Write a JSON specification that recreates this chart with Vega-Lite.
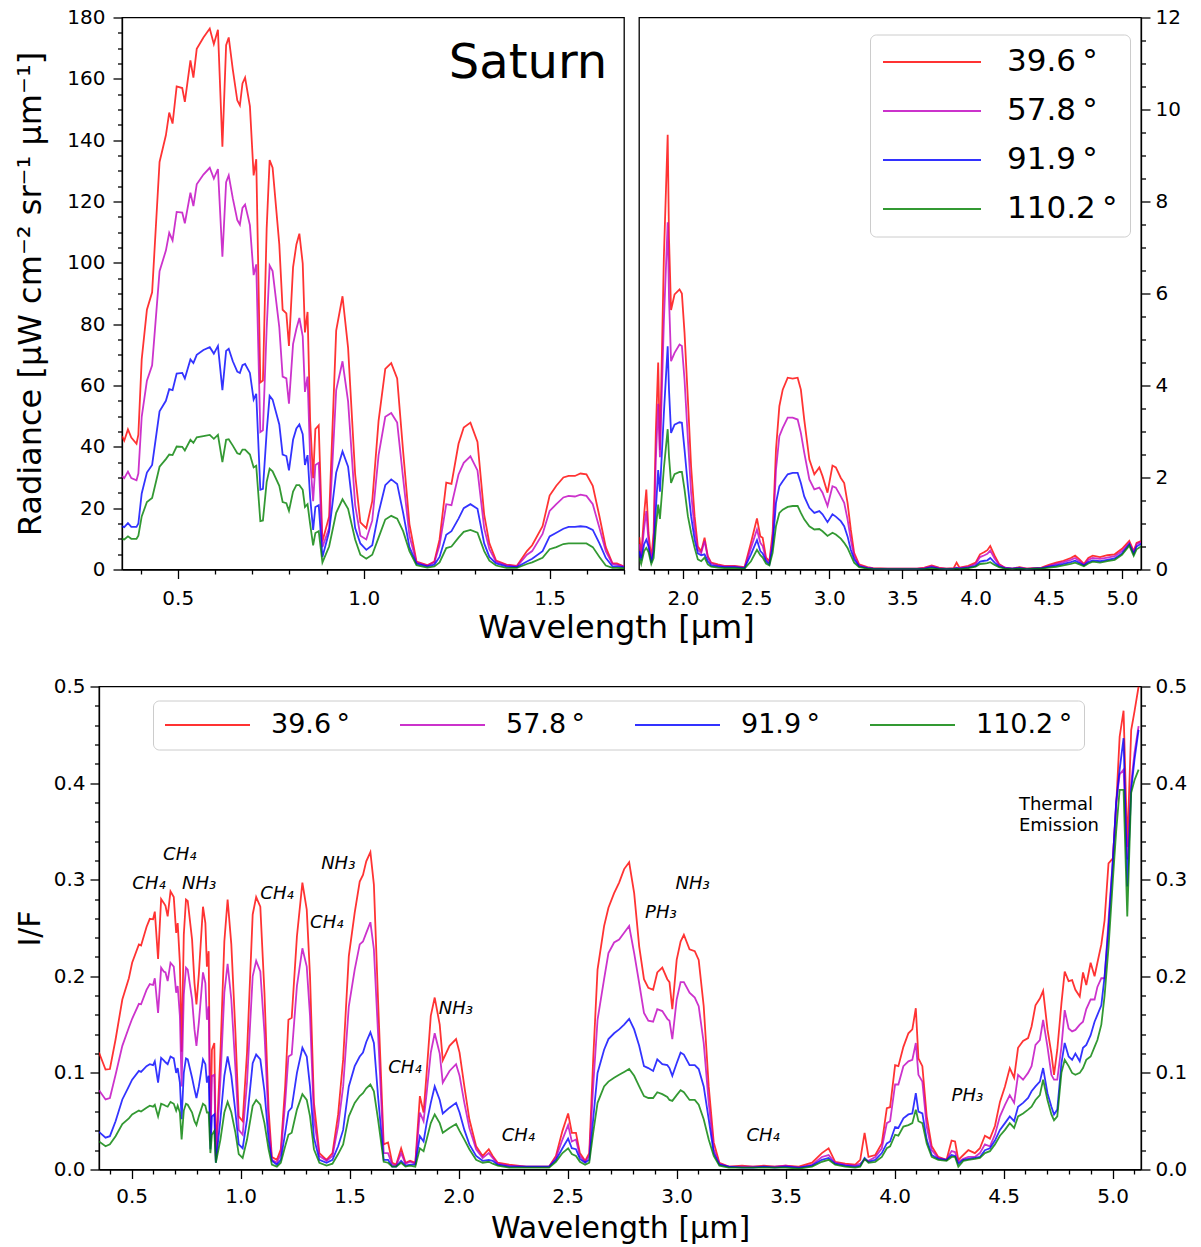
{
  "$schema": "https://vega.github.io/schema/vega-lite/v6.json",
  "background": "white",
  "padding": {"left": 14, "top": 6.5, "right": 5, "bottom": 5},
  "config": {
    "font": "DejaVu Sans",
    "view": {"stroke": "black", "strokeWidth": 1.3},
    "axis": {"grid": false, "domainColor": "black", "domainWidth": 1.3, "tickColor": "black", "tickWidth": 1.3, "labelColor": "black", "titleColor": "black", "labelFontSize": 20, "titleFontWeight": "normal", "labelFlush": false, "labelOverlap": false, "labelPadding": 5, "labelFont": "DejaVu Sans", "titleFont": "DejaVu Sans"},
    "legend": {"labelFont": "DejaVu Sans", "labelColor": "black", "symbolType": "stroke", "symbolStrokeWidth": 2, "strokeColor": "#cccccc", "fillColor": "white", "cornerRadius": 6, "labelLimit": 300}
  },
  "datasets": {
    "L": [
      {"w":0.350,"a":43.5,"b":30.4,"c":14.1,"d":10.0},
      {"w":0.356,"a":42.0,"b":29.8,"c":13.8,"d":9.8},
      {"w":0.366,"a":45.7,"b":31.9,"c":15.1,"d":10.8},
      {"w":0.375,"a":43.0,"b":29.8,"c":13.9,"d":10.0},
      {"w":0.389,"a":41.0,"b":29.1,"c":13.9,"d":10.0},
      {"w":0.394,"a":44.0,"b":31.3,"c":15.0,"d":11.0},
      {"w":0.403,"a":68.5,"b":49.8,"c":24.8,"d":17.3},
      {"w":0.417,"a":84.7,"b":61.6,"c":31.6,"d":22.0},
      {"w":0.431,"a":90.4,"b":66.6,"c":34.1,"d":23.3},
      {"w":0.451,"a":132.9,"b":97.3,"c":51.6,"d":33.5},
      {"w":0.468,"a":141.6,"b":104.0,"c":55.0,"d":36.0},
      {"w":0.477,"a":149.0,"b":109.8,"c":58.8,"d":37.5},
      {"w":0.486,"a":145.4,"b":107.3,"c":58.5,"d":37.3},
      {"w":0.497,"a":157.5,"b":116.6,"c":63.9,"d":40.1},
      {"w":0.512,"a":157.0,"b":116.4,"c":64.1,"d":40.0},
      {"w":0.519,"a":152.5,"b":112.9,"c":62.3,"d":38.8},
      {"w":0.534,"a":166.0,"b":122.9,"c":68.5,"d":42.3},
      {"w":0.542,"a":160.4,"b":118.5,"c":67.3,"d":41.3},
      {"w":0.551,"a":169.8,"b":125.6,"c":70.0,"d":43.1},
      {"w":0.569,"a":173.5,"b":128.8,"c":71.6,"d":43.5},
      {"w":0.586,"a":176.4,"b":131.0,"c":72.5,"d":43.9},
      {"w":0.597,"a":171.3,"b":127.5,"c":70.4,"d":42.6},
      {"w":0.608,"a":176.0,"b":130.6,"c":72.9,"d":43.9},
      {"w":0.620,"a":137.9,"b":102.0,"c":58.5,"d":35.0},
      {"w":0.630,"a":171.0,"b":126.3,"c":71.3,"d":42.3},
      {"w":0.637,"a":173.5,"b":128.5,"c":72.0,"d":42.5},
      {"w":0.648,"a":163.0,"b":121.0,"c":67.9,"d":40.4},
      {"w":0.660,"a":153.0,"b":114.0,"c":64.5,"d":37.9},
      {"w":0.667,"a":151.3,"b":112.5,"c":64.1,"d":37.6},
      {"w":0.674,"a":158.5,"b":117.9,"c":66.6,"d":39.1},
      {"w":0.681,"a":160.4,"b":119.0,"c":67.0,"d":39.1},
      {"w":0.694,"a":151.0,"b":112.3,"c":64.1,"d":37.5},
      {"w":0.704,"a":128.5,"b":96.0,"c":55.4,"d":33.3},
      {"w":0.711,"a":133.8,"b":99.5,"c":57.3,"d":33.8},
      {"w":0.722,"a":61.0,"b":44.8,"c":26.0,"d":15.8},
      {"w":0.729,"a":61.6,"b":45.4,"c":26.3,"d":16.0},
      {"w":0.739,"a":111.0,"b":78.5,"c":44.8,"d":28.5},
      {"w":0.747,"a":133.5,"b":99.1,"c":56.6,"d":32.9},
      {"w":0.755,"a":131.0,"b":97.3,"c":55.4,"d":32.0},
      {"w":0.773,"a":106.0,"b":79.0,"c":47.3,"d":27.3},
      {"w":0.782,"a":84.7,"b":62.9,"c":37.5,"d":22.0},
      {"w":0.792,"a":83.5,"b":62.3,"c":37.0,"d":21.6},
      {"w":0.799,"a":72.9,"b":54.1,"c":32.3,"d":19.1},
      {"w":0.810,"a":98.5,"b":73.5,"c":42.3,"d":25.4},
      {"w":0.819,"a":106.0,"b":78.5,"c":46.0,"d":27.5},
      {"w":0.827,"a":109.5,"b":82.0,"c":47.3,"d":27.5},
      {"w":0.836,"a":99.8,"b":76.0,"c":44.1,"d":26.0},
      {"w":0.842,"a":77.3,"b":57.9,"c":34.1,"d":20.4},
      {"w":0.849,"a":84.0,"b":62.9,"c":37.3,"d":21.3},
      {"w":0.856,"a":48.5,"b":36.0,"c":23.5,"d":14.8},
      {"w":0.864,"a":29.8,"b":22.3,"c":12.9,"d":7.9},
      {"w":0.870,"a":45.8,"b":34.1,"c":20.4,"d":11.9},
      {"w":0.879,"a":47.0,"b":34.8,"c":21.0,"d":12.5},
      {"w":0.889,"a":9.1,"b":7.3,"c":4.1,"d":2.3},
      {"w":0.907,"a":17.3,"b":13.5,"c":12.3,"d":7.5},
      {"w":0.926,"a":77.9,"b":58.5,"c":31.6,"d":18.5},
      {"w":0.943,"a":89.1,"b":67.9,"c":38.5,"d":22.9},
      {"w":0.958,"a":72.3,"b":54.8,"c":33.5,"d":19.8},
      {"w":0.977,"a":31.0,"b":21.0,"c":13.5,"d":9.8},
      {"w":0.991,"a":15.4,"b":11.0,"c":8.5,"d":4.8},
      {"w":1.007,"a":13.5,"b":9.8,"c":6.4,"d":3.5},
      {"w":1.023,"a":22.3,"b":16.0,"c":7.9,"d":4.8},
      {"w":1.040,"a":48.5,"b":37.3,"c":18.5,"d":10.4},
      {"w":1.058,"a":65.4,"b":49.8,"c":27.5,"d":16.3},
      {"w":1.074,"a":67.3,"b":51.0,"c":29.4,"d":17.5},
      {"w":1.090,"a":62.3,"b":47.9,"c":27.9,"d":16.6},
      {"w":1.106,"a":38.5,"b":29.8,"c":18.5,"d":12.5},
      {"w":1.123,"a":14.8,"b":11.0,"c":7.3,"d":6.0},
      {"w":1.142,"a":2.6,"b":2.3,"c":1.9,"d":1.4},
      {"w":1.171,"a":1.4,"b":1.3,"c":1.0,"d":0.6},
      {"w":1.190,"a":2.6,"b":2.3,"c":1.6,"d":1.0},
      {"w":1.204,"a":9.8,"b":7.9,"c":4.1,"d":2.3},
      {"w":1.222,"a":28.3,"b":21.3,"c":11.3,"d":7.0},
      {"w":1.236,"a":27.9,"b":21.0,"c":12.5,"d":7.5},
      {"w":1.255,"a":41.0,"b":31.0,"c":16.6,"d":10.4},
      {"w":1.269,"a":46.3,"b":34.8,"c":20.0,"d":12.3},
      {"w":1.287,"a":47.9,"b":36.9,"c":21.3,"d":12.9},
      {"w":1.306,"a":41.6,"b":32.3,"c":19.8,"d":12.0},
      {"w":1.324,"a":17.9,"b":13.5,"c":8.5,"d":6.0},
      {"w":1.338,"a":8.5,"b":6.6,"c":4.1,"d":2.9},
      {"w":1.356,"a":2.9,"b":2.5,"c":2.0,"d":1.3},
      {"w":1.384,"a":1.6,"b":1.4,"c":1.0,"d":0.5},
      {"w":1.412,"a":1.2,"b":1.0,"c":0.8,"d":0.5},
      {"w":1.439,"a":6.0,"b":4.8,"c":2.6,"d":1.8},
      {"w":1.453,"a":7.9,"b":6.0,"c":3.5,"d":2.3},
      {"w":1.481,"a":14.1,"b":11.6,"c":6.0,"d":3.8},
      {"w":1.500,"a":24.1,"b":19.1,"c":10.8,"d":6.6},
      {"w":1.518,"a":27.3,"b":21.3,"c":12.0,"d":7.3},
      {"w":1.537,"a":30.0,"b":23.5,"c":13.3,"d":8.3},
      {"w":1.551,"a":30.5,"b":24.0,"c":13.9,"d":8.5},
      {"w":1.568,"a":30.5,"b":23.8,"c":13.9,"d":8.5},
      {"w":1.583,"a":31.3,"b":24.4,"c":14.1,"d":8.5},
      {"w":1.599,"a":31.0,"b":24.0,"c":13.9,"d":8.5},
      {"w":1.616,"a":27.3,"b":21.3,"c":12.9,"d":7.3},
      {"w":1.634,"a":17.3,"b":13.5,"c":8.5,"d":4.1},
      {"w":1.651,"a":7.3,"b":6.0,"c":3.8,"d":1.3},
      {"w":1.669,"a":2.0,"b":1.8,"c":1.0,"d":0.5},
      {"w":1.681,"a":2.0,"b":1.6,"c":1.0,"d":0.5},
      {"w":1.700,"a":1.0,"b":1.0,"c":0.8,"d":0.4}
    ],
    "R": [
      {"w":1.703,"a":0.7,"b":0.55,"c":0.4,"d":0.25},
      {"w":1.715,"a":0.3,"b":0.25,"c":0.2,"d":0.12},
      {"w":1.735,"a":1.2,"b":0.9,"c":0.55,"d":0.4},
      {"w":1.750,"a":1.74,"b":1.27,"c":0.65,"d":0.47},
      {"w":1.765,"a":0.8,"b":0.6,"c":0.5,"d":0.38},
      {"w":1.784,"a":0.22,"b":0.18,"c":0.15,"d":0.12},
      {"w":1.800,"a":0.8,"b":0.6,"c":0.4,"d":0.25},
      {"w":1.815,"a":3.0,"b":2.4,"c":1.3,"d":0.9},
      {"w":1.831,"a":4.5,"b":3.6,"c":2.16,"d":1.41},
      {"w":1.843,"a":2.6,"b":2.44,"c":1.69,"d":1.1},
      {"w":1.870,"a":6.8,"b":5.4,"c":3.4,"d":2.2},
      {"w":1.896,"a":9.45,"b":7.55,"c":4.85,"d":3.05},
      {"w":1.905,"a":7.2,"b":5.9,"c":3.9,"d":2.45},
      {"w":1.919,"a":5.64,"b":4.53,"c":2.97,"d":1.88},
      {"w":1.943,"a":5.98,"b":4.71,"c":3.15,"d":2.07},
      {"w":1.977,"a":6.09,"b":4.89,"c":3.2,"d":2.12},
      {"w":1.993,"a":6.0,"b":4.86,"c":3.19,"d":2.12},
      {"w":2.011,"a":5.15,"b":4.13,"c":2.61,"d":1.74},
      {"w":2.034,"a":3.7,"b":2.83,"c":1.81,"d":1.16},
      {"w":2.056,"a":2.24,"b":1.67,"c":1.16,"d":0.8},
      {"w":2.080,"a":1.16,"b":0.87,"c":0.65,"d":0.47},
      {"w":2.102,"a":0.5,"b":0.43,"c":0.35,"d":0.22},
      {"w":2.125,"a":0.4,"b":0.36,"c":0.31,"d":0.18},
      {"w":2.148,"a":0.69,"b":0.62,"c":0.33,"d":0.26},
      {"w":2.170,"a":0.29,"b":0.26,"c":0.18,"d":0.11},
      {"w":2.193,"a":0.15,"b":0.13,"c":0.09,"d":0.06},
      {"w":2.239,"a":0.11,"b":0.09,"c":0.07,"d":0.04},
      {"w":2.284,"a":0.08,"b":0.07,"c":0.05,"d":0.03},
      {"w":2.352,"a":0.08,"b":0.07,"c":0.05,"d":0.03},
      {"w":2.421,"a":0.05,"b":0.04,"c":0.03,"d":0.02},
      {"w":2.465,"a":0.58,"b":0.47,"c":0.33,"d":0.18},
      {"w":2.506,"a":1.11,"b":0.87,"c":0.64,"d":0.43},
      {"w":2.529,"a":0.72,"b":0.58,"c":0.4,"d":0.31},
      {"w":2.545,"a":0.69,"b":0.51,"c":0.35,"d":0.26},
      {"w":2.568,"a":0.26,"b":0.22,"c":0.18,"d":0.13},
      {"w":2.591,"a":0.18,"b":0.15,"c":0.11,"d":0.09},
      {"w":2.613,"a":0.8,"b":0.65,"c":0.51,"d":0.36},
      {"w":2.636,"a":2.61,"b":2.17,"c":1.45,"d":0.94},
      {"w":2.659,"a":3.55,"b":2.9,"c":1.81,"d":1.23},
      {"w":2.682,"a":3.91,"b":3.08,"c":1.92,"d":1.3},
      {"w":2.716,"a":4.17,"b":3.3,"c":2.07,"d":1.36},
      {"w":2.750,"a":4.15,"b":3.3,"c":2.1,"d":1.38},
      {"w":2.784,"a":4.17,"b":3.26,"c":2.1,"d":1.38},
      {"w":2.806,"a":3.91,"b":2.97,"c":1.88,"d":1.23},
      {"w":2.829,"a":3.26,"b":2.54,"c":1.59,"d":1.09},
      {"w":2.864,"a":2.39,"b":1.96,"c":1.34,"d":0.94},
      {"w":2.898,"a":2.07,"b":1.74,"c":1.23,"d":0.87},
      {"w":2.932,"a":2.22,"b":1.78,"c":1.27,"d":0.88},
      {"w":2.954,"a":2.03,"b":1.67,"c":1.2,"d":0.83},
      {"w":2.988,"a":1.67,"b":1.38,"c":1.03,"d":0.73},
      {"w":3.022,"a":2.26,"b":1.81,"c":1.2,"d":0.8},
      {"w":3.045,"a":2.22,"b":1.78,"c":1.15,"d":0.76},
      {"w":3.079,"a":1.99,"b":1.59,"c":1.05,"d":0.67},
      {"w":3.102,"a":1.88,"b":1.45,"c":0.94,"d":0.58},
      {"w":3.125,"a":1.45,"b":1.09,"c":0.72,"d":0.47},
      {"w":3.147,"a":0.87,"b":0.65,"c":0.43,"d":0.31},
      {"w":3.170,"a":0.36,"b":0.29,"c":0.22,"d":0.15},
      {"w":3.204,"a":0.11,"b":0.09,"c":0.07,"d":0.05},
      {"w":3.261,"a":0.05,"b":0.04,"c":0.03,"d":0.02},
      {"w":3.30,"a":0.03,"b":0.02,"c":0.02,"d":0.01},
      {"w":3.40,"a":0.02,"b":0.02,"c":0.01,"d":0.01},
      {"w":3.50,"a":0.02,"b":0.02,"c":0.01,"d":0.01},
      {"w":3.60,"a":0.02,"b":0.02,"c":0.01,"d":0.01},
      {"w":3.65,"a":0.04,"b":0.03,"c":0.02,"d":0.01},
      {"w":3.70,"a":0.09,"b":0.07,"c":0.05,"d":0.03},
      {"w":3.75,"a":0.04,"b":0.03,"c":0.02,"d":0.01},
      {"w":3.80,"a":0.02,"b":0.02,"c":0.01,"d":0.01},
      {"w":3.85,"a":0.03,"b":0.02,"c":0.02,"d":0.01},
      {"w":3.87,"a":0.15,"b":0.04,"c":0.03,"d":0.02},
      {"w":3.89,"a":0.04,"b":0.03,"c":0.02,"d":0.01},
      {"w":3.95,"a":0.08,"b":0.06,"c":0.04,"d":0.03},
      {"w":4.00,"a":0.15,"b":0.12,"c":0.08,"d":0.06},
      {"w":4.03,"a":0.33,"b":0.27,"c":0.17,"d":0.12},
      {"w":4.06,"a":0.38,"b":0.31,"c":0.19,"d":0.13},
      {"w":4.08,"a":0.42,"b":0.34,"c":0.2,"d":0.14},
      {"w":4.10,"a":0.51,"b":0.41,"c":0.25,"d":0.16},
      {"w":4.13,"a":0.3,"b":0.24,"c":0.15,"d":0.1},
      {"w":4.16,"a":0.12,"b":0.1,"c":0.07,"d":0.05},
      {"w":4.20,"a":0.04,"b":0.04,"c":0.03,"d":0.02},
      {"w":4.25,"a":0.02,"b":0.02,"c":0.02,"d":0.01},
      {"w":4.30,"a":0.05,"b":0.04,"c":0.03,"d":0.02},
      {"w":4.35,"a":0.02,"b":0.02,"c":0.01,"d":0.01},
      {"w":4.40,"a":0.03,"b":0.03,"c":0.02,"d":0.02},
      {"w":4.45,"a":0.04,"b":0.03,"c":0.03,"d":0.02},
      {"w":4.50,"a":0.1,"b":0.08,"c":0.06,"d":0.04},
      {"w":4.55,"a":0.15,"b":0.12,"c":0.09,"d":0.06},
      {"w":4.60,"a":0.19,"b":0.16,"c":0.12,"d":0.09},
      {"w":4.65,"a":0.25,"b":0.21,"c":0.16,"d":0.12},
      {"w":4.68,"a":0.3,"b":0.25,"c":0.19,"d":0.15},
      {"w":4.71,"a":0.22,"b":0.18,"c":0.14,"d":0.11},
      {"w":4.74,"a":0.12,"b":0.1,"c":0.09,"d":0.07},
      {"w":4.77,"a":0.25,"b":0.21,"c":0.16,"d":0.13},
      {"w":4.80,"a":0.3,"b":0.25,"c":0.2,"d":0.17},
      {"w":4.85,"a":0.27,"b":0.23,"c":0.18,"d":0.15},
      {"w":4.90,"a":0.31,"b":0.26,"c":0.21,"d":0.18},
      {"w":4.95,"a":0.33,"b":0.29,"c":0.24,"d":0.21},
      {"w":5.00,"a":0.45,"b":0.4,"c":0.35,"d":0.32},
      {"w":5.05,"a":0.62,"b":0.58,"c":0.55,"d":0.52},
      {"w":5.08,"a":0.4,"b":0.37,"c":0.34,"d":0.3},
      {"w":5.10,"a":0.58,"b":0.55,"c":0.5,"d":0.44},
      {"w":5.13,"a":0.62,"b":0.6,"c":0.56,"d":0.5}
    ],
    "B": [
      {"w":0.350,"a":0.121,"b":0.082,"c":0.039,"d":0.029},
      {"w":0.380,"a":0.1035,"b":0.0725,"c":0.033,"d":0.024},
      {"w":0.400,"a":0.104,"b":0.074,"c":0.0345,"d":0.026},
      {"w":0.426,"a":0.1346,"b":0.098,"c":0.050,"d":0.0345},
      {"w":0.457,"a":0.176,"b":0.128,"c":0.0725,"d":0.047},
      {"w":0.487,"a":0.198,"b":0.147,"c":0.086,"d":0.053},
      {"w":0.502,"a":0.214,"b":0.156,"c":0.093,"d":0.057},
      {"w":0.533,"a":0.233,"b":0.1715,"c":0.102,"d":0.061},
      {"w":0.543,"a":0.232,"b":0.171,"c":0.101,"d":0.060},
      {"w":0.568,"a":0.251,"b":0.186,"c":0.107,"d":0.064},
      {"w":0.583,"a":0.2595,"b":0.192,"c":0.109,"d":0.066},
      {"w":0.598,"a":0.259,"b":0.191,"c":0.108,"d":0.065},
      {"w":0.606,"a":0.267,"b":0.198,"c":0.112,"d":0.067},
      {"w":0.621,"a":0.218,"b":0.162,"c":0.090,"d":0.055},
      {"w":0.635,"a":0.280,"b":0.209,"c":0.1155,"d":0.068},
      {"w":0.647,"a":0.276,"b":0.205,"c":0.113,"d":0.067},
      {"w":0.655,"a":0.273,"b":0.204,"c":0.111,"d":0.066},
      {"w":0.665,"a":0.262,"b":0.195,"c":0.109,"d":0.065},
      {"w":0.678,"a":0.288,"b":0.214,"c":0.117,"d":0.070},
      {"w":0.693,"a":0.282,"b":0.210,"c":0.115,"d":0.068},
      {"w":0.704,"a":0.245,"b":0.183,"c":0.100,"d":0.061},
      {"w":0.711,"a":0.255,"b":0.190,"c":0.105,"d":0.066},
      {"w":0.721,"a":0.214,"b":0.159,"c":0.090,"d":0.059},
      {"w":0.729,"a":0.122,"b":0.086,"c":0.052,"d":0.031},
      {"w":0.739,"a":0.243,"b":0.181,"c":0.100,"d":0.061},
      {"w":0.749,"a":0.2795,"b":0.209,"c":0.115,"d":0.068},
      {"w":0.757,"a":0.278,"b":0.207,"c":0.114,"d":0.067},
      {"w":0.777,"a":0.238,"b":0.176,"c":0.095,"d":0.059},
      {"w":0.788,"a":0.193,"b":0.145,"c":0.083,"d":0.050},
      {"w":0.797,"a":0.171,"b":0.128,"c":0.074,"d":0.046},
      {"w":0.808,"a":0.202,"b":0.152,"c":0.086,"d":0.055},
      {"w":0.827,"a":0.272,"b":0.204,"c":0.114,"d":0.068},
      {"w":0.838,"a":0.255,"b":0.193,"c":0.109,"d":0.066},
      {"w":0.845,"a":0.210,"b":0.155,"c":0.090,"d":0.059},
      {"w":0.853,"a":0.226,"b":0.169,"c":0.097,"d":0.059},
      {"w":0.861,"a":0.038,"b":0.029,"c":0.021,"d":0.017},
      {"w":0.868,"a":0.124,"b":0.097,"c":0.055,"d":0.036},
      {"w":0.879,"a":0.131,"b":0.098,"c":0.057,"d":0.040},
      {"w":0.886,"a":0.014,"b":0.010,"c":0.007,"d":0.007},
      {"w":0.907,"a":0.121,"b":0.093,"c":0.052,"d":0.031},
      {"w":0.925,"a":0.236,"b":0.183,"c":0.097,"d":0.059},
      {"w":0.940,"a":0.2795,"b":0.213,"c":0.117,"d":0.070},
      {"w":0.957,"a":0.233,"b":0.176,"c":0.097,"d":0.059},
      {"w":0.976,"a":0.141,"b":0.1035,"c":0.059,"d":0.038},
      {"w":0.991,"a":0.055,"b":0.041,"c":0.026,"d":0.016},
      {"w":1.009,"a":0.050,"b":0.036,"c":0.022,"d":0.012},
      {"w":1.029,"a":0.121,"b":0.090,"c":0.052,"d":0.031},
      {"w":1.055,"a":0.264,"b":0.200,"c":0.110,"d":0.066},
      {"w":1.071,"a":0.282,"b":0.216,"c":0.119,"d":0.072},
      {"w":1.090,"a":0.272,"b":0.205,"c":0.114,"d":0.067},
      {"w":1.109,"a":0.183,"b":0.141,"c":0.081,"d":0.048},
      {"w":1.128,"a":0.062,"b":0.048,"c":0.031,"d":0.021},
      {"w":1.143,"a":0.013,"b":0.010,"c":0.009,"d":0.005},
      {"w":1.166,"a":0.010,"b":0.007,"c":0.005,"d":0.003},
      {"w":1.184,"a":0.021,"b":0.016,"c":0.010,"d":0.007},
      {"w":1.204,"a":0.086,"b":0.069,"c":0.038,"d":0.024},
      {"w":1.219,"a":0.155,"b":0.117,"c":0.060,"d":0.036},
      {"w":1.234,"a":0.157,"b":0.119,"c":0.064,"d":0.038},
      {"w":1.258,"a":0.2415,"b":0.190,"c":0.100,"d":0.062},
      {"w":1.283,"a":0.297,"b":0.229,"c":0.126,"d":0.078},
      {"w":1.303,"a":0.269,"b":0.210,"c":0.117,"d":0.072},
      {"w":1.318,"a":0.200,"b":0.159,"c":0.086,"d":0.055},
      {"w":1.336,"a":0.069,"b":0.053,"c":0.033,"d":0.021},
      {"w":1.361,"a":0.017,"b":0.014,"c":0.010,"d":0.007},
      {"w":1.394,"a":0.010,"b":0.009,"c":0.007,"d":0.004},
      {"w":1.421,"a":0.017,"b":0.014,"c":0.010,"d":0.006},
      {"w":1.447,"a":0.057,"b":0.045,"c":0.024,"d":0.016},
      {"w":1.470,"a":0.114,"b":0.086,"c":0.041,"d":0.026},
      {"w":1.496,"a":0.221,"b":0.169,"c":0.086,"d":0.055},
      {"w":1.523,"a":0.266,"b":0.207,"c":0.107,"d":0.069},
      {"w":1.546,"a":0.298,"b":0.233,"c":0.117,"d":0.076},
      {"w":1.561,"a":0.305,"b":0.236,"c":0.121,"d":0.079},
      {"w":1.576,"a":0.319,"b":0.245,"c":0.132,"d":0.084},
      {"w":1.595,"a":0.3285,"b":0.256,"c":0.142,"d":0.088},
      {"w":1.611,"a":0.295,"b":0.228,"c":0.131,"d":0.081},
      {"w":1.630,"a":0.176,"b":0.141,"c":0.076,"d":0.052},
      {"w":1.656,"a":0.026,"b":0.017,"c":0.010,"d":0.008},
      {"w":1.676,"a":0.028,"b":0.017,"c":0.010,"d":0.007},
      {"w":1.695,"a":0.007,"b":0.005,"c":0.003,"d":0.003},
      {"w":1.713,"a":0.005,"b":0.004,"c":0.003,"d":0.003},
      {"w":1.736,"a":0.022,"b":0.017,"c":0.009,"d":0.007},
      {"w":1.756,"a":0.007,"b":0.006,"c":0.004,"d":0.003},
      {"w":1.777,"a":0.009,"b":0.008,"c":0.005,"d":0.004},
      {"w":1.801,"a":0.007,"b":0.006,"c":0.005,"d":0.003},
      {"w":1.822,"a":0.076,"b":0.059,"c":0.0345,"d":0.022},
      {"w":1.839,"a":0.059,"b":0.050,"c":0.029,"d":0.019},
      {"w":1.853,"a":0.100,"b":0.079,"c":0.048,"d":0.031},
      {"w":1.872,"a":0.159,"b":0.121,"c":0.069,"d":0.048},
      {"w":1.890,"a":0.178,"b":0.141,"c":0.086,"d":0.057},
      {"w":1.913,"a":0.150,"b":0.120,"c":0.072,"d":0.048},
      {"w":1.927,"a":0.113,"b":0.090,"c":0.058,"d":0.038},
      {"w":1.958,"a":0.128,"b":0.102,"c":0.064,"d":0.043},
      {"w":1.988,"a":0.135,"b":0.109,"c":0.069,"d":0.047},
      {"w":2.004,"a":0.121,"b":0.097,"c":0.059,"d":0.040},
      {"w":2.026,"a":0.086,"b":0.069,"c":0.041,"d":0.031},
      {"w":2.049,"a":0.052,"b":0.043,"c":0.026,"d":0.021},
      {"w":2.080,"a":0.024,"b":0.021,"c":0.014,"d":0.010},
      {"w":2.110,"a":0.014,"b":0.012,"c":0.009,"d":0.007},
      {"w":2.138,"a":0.021,"b":0.017,"c":0.010,"d":0.008},
      {"w":2.156,"a":0.014,"b":0.012,"c":0.009,"d":0.006},
      {"w":2.179,"a":0.007,"b":0.006,"c":0.005,"d":0.004},
      {"w":2.232,"a":0.005,"b":0.004,"c":0.003,"d":0.002},
      {"w":2.309,"a":0.003,"b":0.003,"c":0.003,"d":0.002},
      {"w":2.415,"a":0.003,"b":0.003,"c":0.003,"d":0.002},
      {"w":2.446,"a":0.014,"b":0.012,"c":0.010,"d":0.008},
      {"w":2.476,"a":0.040,"b":0.031,"c":0.022,"d":0.017},
      {"w":2.502,"a":0.058,"b":0.046,"c":0.032,"d":0.022},
      {"w":2.519,"a":0.038,"b":0.029,"c":0.022,"d":0.016},
      {"w":2.538,"a":0.038,"b":0.031,"c":0.021,"d":0.014},
      {"w":2.556,"a":0.017,"b":0.014,"c":0.011,"d":0.008},
      {"w":2.580,"a":0.009,"b":0.008,"c":0.007,"d":0.005},
      {"w":2.599,"a":0.017,"b":0.014,"c":0.010,"d":0.007},
      {"w":2.617,"a":0.114,"b":0.086,"c":0.052,"d":0.038},
      {"w":2.637,"a":0.207,"b":0.155,"c":0.100,"d":0.069},
      {"w":2.667,"a":0.252,"b":0.197,"c":0.124,"d":0.086},
      {"w":2.687,"a":0.271,"b":0.224,"c":0.135,"d":0.091},
      {"w":2.713,"a":0.286,"b":0.235,"c":0.141,"d":0.095},
      {"w":2.736,"a":0.297,"b":0.238,"c":0.145,"d":0.098},
      {"w":2.759,"a":0.311,"b":0.245,"c":0.150,"d":0.101},
      {"w":2.782,"a":0.318,"b":0.252,"c":0.156,"d":0.104},
      {"w":2.805,"a":0.286,"b":0.224,"c":0.145,"d":0.097},
      {"w":2.828,"a":0.231,"b":0.193,"c":0.128,"d":0.086},
      {"w":2.850,"a":0.197,"b":0.162,"c":0.107,"d":0.076},
      {"w":2.870,"a":0.188,"b":0.154,"c":0.105,"d":0.074},
      {"w":2.892,"a":0.186,"b":0.153,"c":0.102,"d":0.074},
      {"w":2.911,"a":0.204,"b":0.166,"c":0.114,"d":0.080},
      {"w":2.934,"a":0.209,"b":0.164,"c":0.109,"d":0.078},
      {"w":2.957,"a":0.197,"b":0.156,"c":0.108,"d":0.075},
      {"w":2.967,"a":0.194,"b":0.154,"c":0.105,"d":0.072},
      {"w":2.980,"a":0.166,"b":0.135,"c":0.097,"d":0.071},
      {"w":3.000,"a":0.217,"b":0.176,"c":0.110,"d":0.077},
      {"w":3.018,"a":0.236,"b":0.194,"c":0.121,"d":0.082},
      {"w":3.033,"a":0.243,"b":0.194,"c":0.119,"d":0.080},
      {"w":3.059,"a":0.228,"b":0.183,"c":0.108,"d":0.072},
      {"w":3.083,"a":0.226,"b":0.178,"c":0.108,"d":0.072},
      {"w":3.101,"a":0.217,"b":0.169,"c":0.104,"d":0.067},
      {"w":3.124,"a":0.169,"b":0.131,"c":0.086,"d":0.052},
      {"w":3.147,"a":0.086,"b":0.069,"c":0.052,"d":0.031},
      {"w":3.170,"a":0.028,"b":0.021,"c":0.017,"d":0.014},
      {"w":3.196,"a":0.007,"b":0.006,"c":0.005,"d":0.004},
      {"w":3.239,"a":0.003,"b":0.003,"c":0.003,"d":0.002},
      {"w":3.300,"a":0.004,"b":0.003,"c":0.002,"d":0.002},
      {"w":3.350,"a":0.003,"b":0.003,"c":0.002,"d":0.002},
      {"w":3.400,"a":0.004,"b":0.003,"c":0.003,"d":0.002},
      {"w":3.450,"a":0.003,"b":0.003,"c":0.002,"d":0.002},
      {"w":3.500,"a":0.004,"b":0.004,"c":0.003,"d":0.002},
      {"w":3.560,"a":0.003,"b":0.002,"c":0.002,"d":0.001},
      {"w":3.621,"a":0.007,"b":0.005,"c":0.004,"d":0.003},
      {"w":3.666,"a":0.017,"b":0.013,"c":0.010,"d":0.008},
      {"w":3.697,"a":0.022,"b":0.015,"c":0.012,"d":0.010},
      {"w":3.727,"a":0.008,"b":0.007,"c":0.006,"d":0.005},
      {"w":3.773,"a":0.006,"b":0.005,"c":0.004,"d":0.003},
      {"w":3.819,"a":0.005,"b":0.004,"c":0.003,"d":0.002},
      {"w":3.842,"a":0.010,"b":0.006,"c":0.004,"d":0.003},
      {"w":3.862,"a":0.038,"b":0.010,"c":0.012,"d":0.011},
      {"w":3.880,"a":0.013,"b":0.009,"c":0.008,"d":0.007},
      {"w":3.911,"a":0.015,"b":0.013,"c":0.010,"d":0.008},
      {"w":3.941,"a":0.027,"b":0.022,"c":0.017,"d":0.013},
      {"w":3.964,"a":0.0635,"b":0.048,"c":0.027,"d":0.022},
      {"w":3.979,"a":0.0645,"b":0.050,"c":0.029,"d":0.024},
      {"w":4.002,"a":0.108,"b":0.088,"c":0.044,"d":0.036},
      {"w":4.017,"a":0.107,"b":0.088,"c":0.043,"d":0.035},
      {"w":4.040,"a":0.127,"b":0.107,"c":0.053,"d":0.0445},
      {"w":4.063,"a":0.141,"b":0.112,"c":0.057,"d":0.046},
      {"w":4.081,"a":0.145,"b":0.1135,"c":0.058,"d":0.048},
      {"w":4.097,"a":0.167,"b":0.131,"c":0.079,"d":0.062},
      {"w":4.109,"a":0.115,"b":0.098,"c":0.060,"d":0.050},
      {"w":4.127,"a":0.107,"b":0.091,"c":0.058,"d":0.048},
      {"w":4.147,"a":0.055,"b":0.0445,"c":0.031,"d":0.027},
      {"w":4.170,"a":0.024,"b":0.020,"c":0.015,"d":0.013},
      {"w":4.200,"a":0.013,"b":0.012,"c":0.011,"d":0.010},
      {"w":4.238,"a":0.010,"b":0.010,"c":0.010,"d":0.009},
      {"w":4.261,"a":0.030,"b":0.019,"c":0.015,"d":0.013},
      {"w":4.277,"a":0.029,"b":0.018,"c":0.014,"d":0.013},
      {"w":4.292,"a":0.010,"b":0.008,"c":0.006,"d":0.003},
      {"w":4.315,"a":0.015,"b":0.011,"c":0.010,"d":0.009},
      {"w":4.338,"a":0.020,"b":0.013,"c":0.011,"d":0.010},
      {"w":4.368,"a":0.017,"b":0.013,"c":0.012,"d":0.011},
      {"w":4.391,"a":0.022,"b":0.017,"c":0.013,"d":0.012},
      {"w":4.414,"a":0.035,"b":0.026,"c":0.020,"d":0.017},
      {"w":4.437,"a":0.032,"b":0.024,"c":0.022,"d":0.019},
      {"w":4.460,"a":0.045,"b":0.036,"c":0.030,"d":0.026},
      {"w":4.483,"a":0.070,"b":0.055,"c":0.041,"d":0.035},
      {"w":4.506,"a":0.086,"b":0.067,"c":0.048,"d":0.041},
      {"w":4.528,"a":0.105,"b":0.077,"c":0.055,"d":0.048},
      {"w":4.548,"a":0.095,"b":0.069,"c":0.050,"d":0.043},
      {"w":4.566,"a":0.126,"b":0.098,"c":0.065,"d":0.055},
      {"w":4.589,"a":0.133,"b":0.093,"c":0.069,"d":0.058},
      {"w":4.612,"a":0.136,"b":0.100,"c":0.074,"d":0.062},
      {"w":4.628,"a":0.148,"b":0.107,"c":0.081,"d":0.065},
      {"w":4.646,"a":0.170,"b":0.129,"c":0.086,"d":0.072},
      {"w":4.666,"a":0.177,"b":0.134,"c":0.091,"d":0.077},
      {"w":4.681,"a":0.185,"b":0.155,"c":0.105,"d":0.093},
      {"w":4.701,"a":0.145,"b":0.127,"c":0.079,"d":0.072},
      {"w":4.719,"a":0.120,"b":0.098,"c":0.065,"d":0.057},
      {"w":4.731,"a":0.098,"b":0.093,"c":0.057,"d":0.051},
      {"w":4.746,"a":0.124,"b":0.093,"c":0.062,"d":0.055},
      {"w":4.765,"a":0.172,"b":0.127,"c":0.110,"d":0.100},
      {"w":4.780,"a":0.205,"b":0.165,"c":0.131,"d":0.1135},
      {"w":4.798,"a":0.195,"b":0.146,"c":0.117,"d":0.107},
      {"w":4.814,"a":0.196,"b":0.143,"c":0.1135,"d":0.100},
      {"w":4.829,"a":0.186,"b":0.1445,"c":0.120,"d":0.098},
      {"w":4.849,"a":0.179,"b":0.150,"c":0.112,"d":0.100},
      {"w":4.864,"a":0.204,"b":0.153,"c":0.126,"d":0.105},
      {"w":4.879,"a":0.191,"b":0.166,"c":0.129,"d":0.1135},
      {"w":4.899,"a":0.214,"b":0.176,"c":0.139,"d":0.117},
      {"w":4.917,"a":0.200,"b":0.176,"c":0.153,"d":0.127},
      {"w":4.930,"a":0.214,"b":0.189,"c":0.160,"d":0.134},
      {"w":4.948,"a":0.233,"b":0.198,"c":0.170,"d":0.150},
      {"w":4.963,"a":0.258,"b":0.198,"c":0.200,"d":0.180},
      {"w":4.981,"a":0.317,"b":0.258,"c":0.250,"d":0.230},
      {"w":5.001,"a":0.322,"b":0.321,"c":0.320,"d":0.300},
      {"w":5.016,"a":0.376,"b":0.379,"c":0.380,"d":0.350},
      {"w":5.032,"a":0.448,"b":0.409,"c":0.414,"d":0.393},
      {"w":5.050,"a":0.475,"b":0.414,"c":0.4465,"d":0.393},
      {"w":5.067,"a":0.334,"b":0.321,"c":0.293,"d":0.262},
      {"w":5.085,"a":0.455,"b":0.400,"c":0.393,"d":0.390},
      {"w":5.100,"a":0.474,"b":0.431,"c":0.424,"d":0.403},
      {"w":5.119,"a":0.500,"b":0.459,"c":0.455,"d":0.414}
    ]
  },
  "vconcat": [
    {
      "hconcat": [
        {
          "width": 8,
          "height": 552,
          "view": {"stroke": null},
          "data": {"values": [{}]},
          "mark": {"type": "text", "text": ""},
          "encoding": {}
        },
        {
          "width": 502,
          "height": 552,
          "layer": [
            {
              "data": {"name": "L"},
              "transform": [{"fold": ["a", "b", "c", "d"], "as": ["k", "v"]}],
              "mark": {"type": "line", "strokeWidth": 1.8, "strokeOpacity": 0.8, "clip": true},
              "encoding": {
                "x": {"field": "w", "type": "quantitative", "scale": {"domain": [0.35, 1.70], "nice": false, "zero": false},
                  "axis": {"title": "Wavelength [μm]", "titleFontSize": 32, "titleX": 494, "titleAlign": "center", "titlePadding": 4, "labelPadding": 10,
                    "values": [0.4,0.5,0.6,0.7,0.8,0.9,1.0,1.1,1.2,1.3,1.4,1.5,1.6,1.7], "format": ".1f",
                    "labelExpr": "abs(datum.value*2 - round(datum.value*2)) < 0.001 ? datum.label : ''",
                    "tickSize": {"condition": {"test": "abs(datum.value*2 - round(datum.value*2)) < 0.001", "value": 9}, "value": 4.5}}},
                "y": {"field": "v", "type": "quantitative", "scale": {"domain": [0, 180], "nice": false},
                  "axis": {"title": "Radiance [μW cm⁻² sr⁻¹ μm⁻¹]", "titleFontSize": 32, "titlePadding": 19, "labelPadding": 8,
                    "values": [0,5,10,15,20,25,30,35,40,45,50,55,60,65,70,75,80,85,90,95,100,105,110,115,120,125,130,135,140,145,150,155,160,165,170,175,180],
                    "labelExpr": "datum.value % 20 == 0 ? datum.label : ''",
                    "tickSize": {"condition": {"test": "datum.value % 20 == 0", "value": 9}, "value": 4.5}}},
                "color": {"field": "k", "type": "nominal", "scale": {"domain": ["a", "b", "c", "d"], "range": ["#ff0000", "#bf00bf", "#0000ff", "#008000"]}, "legend": null}
              }
            },
            {
              "data": {"values": [{"w": 1.655, "v": 160.4, "t": "Saturn"}]},
              "mark": {"type": "text", "fontSize": 48, "align": "right", "baseline": "alphabetic", "color": "black"},
              "encoding": {
                "x": {"field": "w", "type": "quantitative", "axis": null},
                "y": {"field": "v", "type": "quantitative", "axis": null},
                "text": {"field": "t"}
              }
            }
          ],
          "resolve": {"axis": {"x": "independent", "y": "independent"}}
        },
        {
          "width": 502,
          "height": 552,
          "data": {"name": "R"},
          "transform": [{"fold": ["a", "b", "c", "d"], "as": ["k", "v"]}],
          "mark": {"type": "line", "strokeWidth": 1.8, "strokeOpacity": 0.8, "clip": true},
          "encoding": {
            "x": {"field": "w", "type": "quantitative", "scale": {"domain": [1.70, 5.13], "nice": false, "zero": false},
              "axis": {"title": null, "labelPadding": 10,
                "values": [1.8,1.9,2.0,2.1,2.2,2.3,2.4,2.5,2.6,2.7,2.8,2.9,3.0,3.1,3.2,3.3,3.4,3.5,3.6,3.7,3.8,3.9,4.0,4.1,4.2,4.3,4.4,4.5,4.6,4.7,4.8,4.9,5.0,5.1], "format": ".1f",
                "labelExpr": "abs(datum.value*2 - round(datum.value*2)) < 0.001 ? datum.label : ''",
                "tickSize": {"condition": {"test": "abs(datum.value*2 - round(datum.value*2)) < 0.001", "value": 9}, "value": 4.5}}},
            "y": {"field": "v", "type": "quantitative", "scale": {"domain": [0, 12], "nice": false},
              "axis": {"title": null, "orient": "right", "format": ".0f",
                "values": [0,0.5,1,1.5,2,2.5,3,3.5,4,4.5,5,5.5,6,6.5,7,7.5,8,8.5,9,9.5,10,10.5,11,11.5,12],
                "labelExpr": "datum.value % 2 == 0 ? datum.label : ''",
                "tickSize": {"condition": {"test": "datum.value % 2 == 0", "value": 9}, "value": 4.5}}},
            "color": {"field": "k", "type": "nominal", "scale": {"domain": ["a", "b", "c", "d"], "range": ["#ff0000", "#bf00bf", "#0000ff", "#008000"]},
              "legend": {"title": null, "orient": "none", "legendX": 231, "legendY": 17, "direction": "vertical",
                "labelExpr": "datum.label == 'a' ? '39.6\u2009°' : datum.label == 'b' ? '57.8\u2009°' : datum.label == 'c' ? '91.9\u2009°' : '110.2\u2009°'",
                "labelFontSize": 31, "symbolSize": 9604, "symbolOpacity": 0.8, "labelOffset": 25, "rowPadding": 17, "padding": 12, "clipHeight": 31}}
          }
        }
      ],
      "spacing": 15,
      "bounds": "flush",
      "resolve": {"legend": {"color": "independent"}}
    },
    {
      "width": 1042,
      "height": 483,
      "layer": [
        {
          "data": {"name": "B"},
          "transform": [{"fold": ["a", "b", "c", "d"], "as": ["k", "v"]}],
          "mark": {"type": "line", "strokeWidth": 1.8, "strokeOpacity": 0.8, "clip": true},
          "encoding": {
            "x": {"field": "w", "type": "quantitative", "scale": {"domain": [0.35, 5.13], "nice": false, "zero": false},
              "axis": {"title": "Wavelength [μm]", "titleFontSize": 30, "titlePadding": 7, "labelPadding": 8,
                "values": [0.4,0.5,0.6,0.7,0.8,0.9,1.0,1.1,1.2,1.3,1.4,1.5,1.6,1.7,1.8,1.9,2.0,2.1,2.2,2.3,2.4,2.5,2.6,2.7,2.8,2.9,3.0,3.1,3.2,3.3,3.4,3.5,3.6,3.7,3.8,3.9,4.0,4.1,4.2,4.3,4.4,4.5,4.6,4.7,4.8,4.9,5.0,5.1], "format": ".1f",
                "labelExpr": "abs(datum.value*2 - round(datum.value*2)) < 0.001 ? datum.label : ''",
                "tickSize": {"condition": {"test": "abs(datum.value*2 - round(datum.value*2)) < 0.001", "value": 9}, "value": 4.5}}},
            "y": {"field": "v", "type": "quantitative", "scale": {"domain": [0, 0.5], "nice": false},
              "axis": {"title": "I/F", "titleFontSize": 30, "titlePadding": 8, "orient": "left",
                "values": [0,0.02,0.04,0.06,0.08,0.1,0.12,0.14,0.16,0.18,0.2,0.22,0.24,0.26,0.28,0.3,0.32,0.34,0.36,0.38,0.4,0.42,0.44,0.46,0.48,0.5], "format": ".1f",
                "labelExpr": "abs(datum.value*10 - round(datum.value*10)) < 0.001 ? datum.label : ''",
                "tickSize": {"condition": {"test": "abs(datum.value*10 - round(datum.value*10)) < 0.001", "value": 9}, "value": 4.5}}},
            "color": {"field": "k", "type": "nominal", "scale": {"domain": ["a", "b", "c", "d"], "range": ["#ff0000", "#bf00bf", "#0000ff", "#008000"]},
              "legend": {"title": null, "orient": "none", "legendX": 54, "legendY": 14, "direction": "horizontal",
                "labelExpr": "datum.label == 'a' ? '39.6\u2009°' : datum.label == 'b' ? '57.8\u2009°' : datum.label == 'c' ? '91.9\u2009°' : '110.2\u2009°'",
                "labelFontSize": 27, "symbolSize": 7225, "symbolOpacity": 0.8, "labelOffset": 20, "columnPadding": 48, "padding": 11, "clipHeight": 27}}
          }
        },
        {
          "data": {"values": [
            {"w": 0.503, "v": 0.2899, "t": "CH₄"},
            {"w": 0.644, "v": 0.3209, "t": "CH₄"},
            {"w": 0.731, "v": 0.2899, "t": "NH₃"},
            {"w": 1.09, "v": 0.2802, "t": "CH₄"},
            {"w": 1.369, "v": 0.3106, "t": "NH₃"},
            {"w": 1.3185, "v": 0.2502, "t": "CH₄"},
            {"w": 1.677, "v": 0.1001, "t": "CH₄"},
            {"w": 1.909, "v": 0.1605, "t": "NH₃"},
            {"w": 2.197, "v": 0.0293, "t": "CH₄"},
            {"w": 2.855, "v": 0.2605, "t": "PH₃"},
            {"w": 2.995, "v": 0.2899, "t": "NH₃"},
            {"w": 3.32, "v": 0.0293, "t": "CH₄"},
            {"w": 4.261, "v": 0.0704, "t": "PH₃"}
          ]},
          "mark": {"type": "text", "fontSize": 18, "fontStyle": "italic", "align": "left", "baseline": "alphabetic", "color": "black"},
          "encoding": {
            "x": {"field": "w", "type": "quantitative", "axis": null},
            "y": {"field": "v", "type": "quantitative",
              "axis": {"title": null, "orient": "right",
                "values": [0,0.02,0.04,0.06,0.08,0.1,0.12,0.14,0.16,0.18,0.2,0.22,0.24,0.26,0.28,0.3,0.32,0.34,0.36,0.38,0.4,0.42,0.44,0.46,0.48,0.5], "format": ".1f",
                "labelExpr": "abs(datum.value*10 - round(datum.value*10)) < 0.001 ? datum.label : ''",
                "tickSize": {"condition": {"test": "abs(datum.value*10 - round(datum.value*10)) < 0.001", "value": 9}, "value": 4.5}}},
            "text": {"field": "t"}
          }
        },
        {
          "data": {"values": [
            {"w": 4.57, "v": 0.3723, "t": "Thermal"},
            {"w": 4.57, "v": 0.3509, "t": "Emission"}
          ]},
          "mark": {"type": "text", "fontSize": 18, "align": "left", "baseline": "alphabetic", "color": "black"},
          "encoding": {
            "x": {"field": "w", "type": "quantitative", "axis": null},
            "y": {"field": "v", "type": "quantitative", "axis": null},
            "text": {"field": "t"}
          }
        }
      ],
      "resolve": {"axis": {"x": "independent", "y": "independent"}}
    }
  ],
  "spacing": 31,
  "resolve": {"legend": {"color": "independent"}}
}
